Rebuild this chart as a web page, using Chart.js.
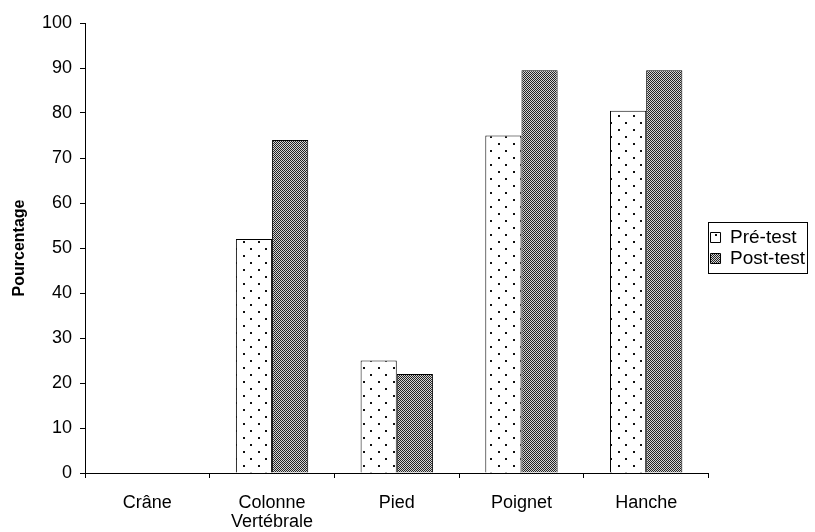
<!DOCTYPE html>
<html>
<head>
<meta charset="utf-8">
<script src="https://cdn.jsdelivr.net/npm/chart.js@4.4.0/dist/chart.umd.min.js"></script>
<style>
  html, body { margin: 0; padding: 0; background: #fff; }
  #wrap { width: 815px; height: 532px; }
</style>
</head>
<body>
<div id="wrap"><canvas id="c" width="815" height="532"></canvas></div>
<script>
// Pré-test vs Post-test, pourcentage par localisation
const categories = ['Crâne', ['Colonne', 'Vertébrale'], 'Pied', 'Poignet', 'Hanche'];
const preTest = [0, 52, 25, 75, 80.5];
const postTest = [0, 74, 22, 89.5, 89.5];
const yTicks = [0, 10, 20, 30, 40, 50, 60, 70, 80, 90, 100];

const FONT = '"Liberation Sans", Arial, sans-serif';

// sparse staggered dots on white
function dotPattern() {
  const p = document.createElement('canvas');
  p.width = 15; p.height = 14;
  const g = p.getContext('2d');
  g.fillStyle = '#fff'; g.fillRect(0, 0, 15, 14);
  g.fillStyle = '#111';
  g.fillRect(3, 3, 2, 2);
  g.fillRect(10, 10, 2, 2);
  return g.createPattern(p, 'repeat');
}

// fine checker, reads as mid grey
function checkPattern() {
  const p = document.createElement('canvas');
  p.width = 2; p.height = 2;
  const g = p.getContext('2d');
  g.fillStyle = '#d4d4d4'; g.fillRect(0, 0, 2, 2);
  g.fillStyle = '#222';
  g.fillRect(0, 0, 1, 1);
  g.fillRect(1, 1, 1, 1);
  return g.createPattern(p, 'repeat');
}

// frame only the item boxes, not the whole legend column
const legendFrame = {
  id: 'legendFrame',
  afterDraw(chart) {
    const l = chart.legend;
    if (!l || !l.legendHitBoxes || !l.legendHitBoxes.length) return;
    const hb = l.legendHitBoxes;
    const x0 = Math.min(...hb.map(h => h.left)) - 3;
    const x1 = Math.max(...hb.map(h => h.left + h.width)) + 2;
    const y0 = Math.min(...hb.map(h => h.top)) - 6;
    const y1 = Math.max(...hb.map(h => h.top + h.height)) + 5;
    const ctx = chart.ctx;
    ctx.save();
    ctx.strokeStyle = '#000';
    ctx.lineWidth = 1;
    ctx.strokeRect(Math.round(x0) + 0.5, Math.round(y0) + 0.5, Math.round(x1 - x0), Math.round(y1 - y0));
    ctx.restore();
  }
};

new Chart(document.getElementById('c').getContext('2d'), {
  type: 'bar',
  data: {
    labels: categories,
    datasets: [
      { label: 'Pré-test', data: preTest, backgroundColor: dotPattern(), borderColor: '#000', borderWidth: 1 },
      { label: 'Post-test', data: postTest, backgroundColor: checkPattern(), borderColor: '#000', borderWidth: 1 }
    ]
  },
  options: {
    responsive: false,
    animation: false,
    devicePixelRatio: 1,
    layout: { padding: { top: 23, right: 0, bottom: 0, left: 0 } },
    datasets: { bar: { categoryPercentage: 0.58, barPercentage: 1.0 } },
    plugins: {
      tooltip: { enabled: false },
      legend: {
        position: 'right',
        fullSize: false,
        labels: {
          color: '#000',
          font: { family: FONT, size: 19 },
          boxWidth: 10,
          boxHeight: 10,
          padding: 2
        }
      }
    },
    scales: {
      x: {
        afterFit: s => { s.height = 59; },
        grid: { drawOnChartArea: false, drawTicks: true, tickLength: 5, color: '#000', offset: true },
        border: { display: true, color: '#000', width: 1 },
        ticks: { color: '#000', font: { family: FONT, size: 18, lineHeight: 1.05 }, padding: 16, maxRotation: 0 }
      },
      y: {
        min: 0, max: 100,
        afterBuildTicks: s => { s.ticks = yTicks.map(v => ({ value: v })); },
        afterFit: s => { s.width = 85; },
        grid: { drawOnChartArea: false, drawTicks: true, tickLength: 5, color: '#000' },
        border: { display: true, color: '#000', width: 1 },
        ticks: { color: '#000', font: { family: FONT, size: 18 }, padding: 8 },
        title: { display: true, text: 'Pourcentage', color: '#000', font: { family: FONT, size: 16, weight: 'bold' }, padding: { top: 10, bottom: 4 } }
      }
    }
  },
  plugins: [legendFrame]
});
</script>
</body>
</html>
